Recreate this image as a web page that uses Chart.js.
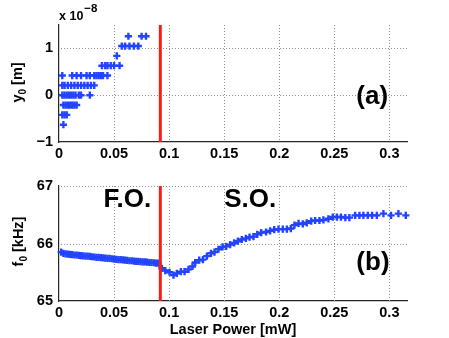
<!DOCTYPE html>
<html>
<head>
<meta charset="utf-8">
<script src="https://cdn.jsdelivr.net/npm/chart.js@4.4.0/dist/chart.umd.min.js"></script>
<style>
  html, body { margin: 0; padding: 0; background: #fff; }
  #wrap { width: 449px; height: 338px; }
  canvas { display: block; }
</style>
</head>
<body>
<div id="wrap">
  <canvas id="topChart" width="449" height="169"></canvas>
  <canvas id="botChart" width="449" height="169"></canvas>
</div>
<script>
// panel (a): y0 in units of 1e-8 m vs laser power [mW]
const y0Power = [
  0.004,
  0.003, 0.005, 0.007,
  0.004, 0.006, 0.008, 0.010, 0.012, 0.014, 0.016,
  0.003, 0.005, 0.007, 0.009, 0.011, 0.013, 0.015, 0.018, 0.020, 0.028,
  0.003, 0.005, 0.008, 0.011, 0.014, 0.017, 0.020, 0.023, 0.026, 0.029, 0.032,
  0.003, 0.012, 0.016, 0.020, 0.025, 0.028, 0.032, 0.034, 0.036, 0.038, 0.040, 0.044,
  0.039, 0.042, 0.044, 0.047, 0.050, 0.055,
  0.0525,
  0.057, 0.060, 0.064, 0.068, 0.072,
  0.063, 0.075, 0.079
];
const y0Values = [
  -0.63,
  -0.42, -0.42, -0.42,
  -0.21, -0.21, -0.21, -0.21, -0.21, -0.21, -0.21,
  0, 0, 0, 0, 0, 0, 0, 0, 0, 0,
  0.21, 0.21, 0.21, 0.21, 0.21, 0.21, 0.21, 0.21, 0.21, 0.21, 0.21,
  0.42, 0.42, 0.42, 0.42, 0.42, 0.42, 0.42, 0.42, 0.42, 0.42, 0.42, 0.42,
  0.63, 0.63, 0.63, 0.63, 0.63, 0.63,
  0.84,
  1.05, 1.05, 1.05, 1.05, 1.05,
  1.26, 1.26, 1.26
];

// panel (b): f0 [kHz], F.O. branch (dense) and S.O. branch
const foPower = [
  0.002, 0.004, 0.006, 0.008, 0.010, 0.012, 0.014, 0.016, 0.018, 0.020,
  0.022, 0.024, 0.026, 0.028, 0.030, 0.032, 0.034, 0.036, 0.038, 0.040,
  0.042, 0.044, 0.046, 0.048, 0.050, 0.052, 0.054, 0.056, 0.058, 0.060,
  0.062, 0.064, 0.066, 0.068, 0.070, 0.072, 0.074, 0.076, 0.078, 0.080,
  0.082, 0.084, 0.086, 0.088, 0.090
];
const foFreq = [
  65.85, 65.83, 65.82, 65.815, 65.81, 65.805, 65.80, 65.80, 65.795, 65.79,
  65.785, 65.78, 65.78, 65.775, 65.77, 65.765, 65.76, 65.76, 65.755, 65.75,
  65.745, 65.74, 65.74, 65.735, 65.73, 65.725, 65.72, 65.72, 65.715, 65.71,
  65.705, 65.70, 65.70, 65.695, 65.69, 65.69, 65.685, 65.68, 65.68, 65.675,
  65.67, 65.67, 65.665, 65.66, 65.66
];
const soPower = [
  0.0934, 0.0965, 0.1004, 0.104, 0.107, 0.1107, 0.114, 0.1176, 0.1212, 0.1237,
  0.1273, 0.1307, 0.1343, 0.138, 0.1412, 0.1448, 0.1485, 0.1518, 0.1554, 0.159,
  0.1624, 0.166, 0.1697, 0.173, 0.1766, 0.180, 0.1836, 0.188, 0.1917, 0.1954,
  0.1993, 0.2032, 0.2069, 0.2105, 0.2138, 0.2175, 0.2214, 0.225, 0.229, 0.2326,
  0.2365, 0.2401, 0.2446, 0.2486, 0.2523, 0.256, 0.26, 0.2637, 0.2689, 0.2728,
  0.2764, 0.2804, 0.2843, 0.2886, 0.2946, 0.3015, 0.3082, 0.3149
];
const soFreq = [
  65.57, 65.53, 65.50, 65.45, 65.48, 65.51, 65.51, 65.55, 65.60, 65.67,
  65.71, 65.72, 65.78, 65.83, 65.85, 65.90, 65.94, 65.95, 65.98, 66.01,
  66.04, 66.07, 66.09, 66.11, 66.12, 66.16, 66.19, 66.20, 66.22, 66.24,
  66.25, 66.25, 66.25, 66.26, 66.32, 66.35, 66.34, 66.36, 66.39, 66.40,
  66.40, 66.41, 66.43, 66.46, 66.46, 66.46, 66.45, 66.45, 66.49, 66.49,
  66.49, 66.49, 66.49, 66.49, 66.52, 66.49, 66.52, 66.49
];

const transitionPower = 0.092;

const xTicks = [0, 0.05, 0.1, 0.15, 0.2, 0.25, 0.3];
const xTickLabels = ['0', '0.05', '0.1', '0.15', '0.2', '0.25', '0.3'];
const topYTicks = [-1, 0, 1];
const topYTickLabels = ['\u22121', '0', '1'];
const botYTicks = [65, 66, 67];
const botYTickLabels = ['65', '66', '67'];

const FONT = '"Liberation Sans", Arial, Helvetica, sans-serif';
const BLUE = '#2244ff';
const RED = '#ff1a1a';

function pts(xs, ys) { return xs.map((x, i) => ({ x: x, y: ys[i] })); }

function markerSet(data) {
  return {
    data: data, order: 2, clip: 8,
    pointStyle: 'cross', pointRadius: 3.6, pointHoverRadius: 3.6,
    borderColor: BLUE, backgroundColor: BLUE, borderWidth: 2.4, showLine: false
  };
}
function redLine(yMin, yMax) {
  return {
    data: [{ x: transitionPower, y: yMin }, { x: transitionPower, y: yMax }],
    order: 0, clip: 0, showLine: true, borderColor: RED, borderWidth: 3, pointRadius: 0
  };
}

function scalesFor(yMin, yMax, yTicks, yLabels, xHeight) {
  return {
    x: {
      type: 'linear', min: 0, max: 0.316,
      afterBuildTicks: s => { s.ticks = xTicks.map(v => ({ value: v })); },
      afterFit: s => { s.height = xHeight; },
      ticks: {
        autoSkip: false, maxRotation: 0, padding: 3, color: '#000',
        font: { family: FONT, size: 14.5, weight: 'bold' },
        callback: (v, i) => xTickLabels[i]
      },
      grid: { color: 'rgba(0,0,0,0)', lineWidth: 1, drawTicks: false },
      border: { display: true, color: '#262626', width: 1.2 }
    },
    y: {
      type: 'linear', min: yMin, max: yMax,
      afterBuildTicks: s => { s.ticks = yTicks.map(v => ({ value: v })); },
      afterFit: s => { s.width = 59; },
      ticks: {
        autoSkip: false, padding: 6, color: '#000',
        font: { family: FONT, size: 14.5, weight: 'bold' },
        callback: (v, i) => yLabels[i]
      },
      grid: { color: 'rgba(0,0,0,0)', lineWidth: 1, drawTicks: false },
      border: { display: true, color: '#262626', width: 1.2 }
    }
  };
}

// dotted grid at the scales' tick positions, drawn as 1px dots behind the markers
const dotGrid = {
  id: 'dotGrid',
  beforeDatasetsDraw(chart) {
    const ctx = chart.ctx, a = chart.chartArea;
    const xs = chart.scales.x, ys = chart.scales.y;
    ctx.save();
    ctx.fillStyle = '#8f8f8f';
    xs.ticks.forEach(t => {
      const px = Math.round(xs.getPixelForValue(t.value));
      if (px <= a.left + 1) return;
      for (let y = Math.ceil(a.top); y < a.bottom; y += 3) ctx.fillRect(px, y, 1, 1);
    });
    ys.ticks.forEach(t => {
      const py = Math.round(ys.getPixelForValue(t.value));
      if (py >= a.bottom - 1) return;
      for (let x = Math.ceil(a.left) + 2; x < a.right; x += 3) ctx.fillRect(x, py, 1, 1);
    });
    ctx.restore();
  }
};

function subLabel(ctx, cx, cy, main, sub, rest) {
  const big = 'bold 14.5px ' + FONT, small = 'bold 10px ' + FONT;
  ctx.save();
  ctx.translate(cx, cy);
  ctx.rotate(-Math.PI / 2);
  ctx.fillStyle = '#000';
  ctx.textAlign = 'left';
  ctx.textBaseline = 'alphabetic';
  ctx.font = big;
  const w1 = ctx.measureText(main).width, w3 = ctx.measureText(rest).width;
  ctx.font = small;
  const w2 = ctx.measureText(sub).width;
  let x = -(w1 + w2 + w3) / 2;
  ctx.font = big; ctx.fillText(main, x, 0); x += w1;
  ctx.font = small; ctx.fillText(sub, x, 4); x += w2;
  ctx.font = big; ctx.fillText(rest, x, 0);
  ctx.restore();
}

function bigText(chart, txt, xv, yv) {
  const ctx = chart.ctx;
  ctx.save();
  ctx.fillStyle = '#000';
  ctx.font = 'bold 26px ' + FONT;
  ctx.textAlign = 'left';
  ctx.textBaseline = 'alphabetic';
  ctx.fillText(txt, chart.scales.x.getPixelForValue(xv), chart.scales.y.getPixelForValue(yv));
  ctx.restore();
}

new Chart(document.getElementById('topChart'), {
  type: 'scatter',
  data: { datasets: [redLine(-1, 1.5), markerSet(pts(y0Power, y0Values))] },
  options: {
    responsive: false, animation: false, devicePixelRatio: 1,
    layout: { padding: { left: 0, right: 42, top: 25, bottom: 0 } },
    plugins: { legend: { display: false }, tooltip: { enabled: false } },
    scales: scalesFor(-1, 1.5, topYTicks, topYTickLabels, 27)
  },
  plugins: [dotGrid, {
    id: 'topText',
    afterDraw(chart) {
      const ctx = chart.ctx, a = chart.chartArea;
      ctx.save();
      ctx.fillStyle = '#000';
      ctx.textAlign = 'left';
      ctx.textBaseline = 'alphabetic';
      ctx.font = 'bold 12.5px ' + FONT;
      ctx.fillText('x 10', a.left, 19.5);
      const w = ctx.measureText('x 10').width;
      ctx.font = 'bold 11.5px ' + FONT;
      ctx.fillText('\u22128', a.left + w + 1, 11.5);
      ctx.restore();
      subLabel(ctx, 22, (a.top + a.bottom) / 2 - 1, 'y', '0', ' [m]');
      bigText(chart, '(a)', 0.27, -0.18);
    }
  }]
});

new Chart(document.getElementById('botChart'), {
  type: 'scatter',
  data: {
    datasets: [
      redLine(65, 67),
      markerSet(pts(foPower, foFreq)),
      markerSet(pts(soPower, soFreq))
    ]
  },
  options: {
    responsive: false, animation: false, devicePixelRatio: 1,
    layout: { padding: { left: 0, right: 42, top: 17, bottom: 0 } },
    plugins: { legend: { display: false }, tooltip: { enabled: false } },
    scales: scalesFor(65, 67, botYTicks, botYTickLabels, 37)
  },
  plugins: [dotGrid, {
    id: 'botText',
    afterDraw(chart) {
      const ctx = chart.ctx, a = chart.chartArea;
      subLabel(ctx, 22.5, (a.top + a.bottom) / 2 - 2, 'f', '0', ' [kHz]');
      ctx.save();
      ctx.fillStyle = '#000';
      ctx.font = 'bold 14.5px ' + FONT;
      ctx.textAlign = 'center';
      ctx.textBaseline = 'alphabetic';
      ctx.fillText('Laser Power [mW]', (a.left + a.right) / 2, 165);
      ctx.restore();
      bigText(chart, 'F.O.', 0.0405, 66.636);
      bigText(chart, 'S.O.', 0.150, 66.636);
      bigText(chart, '(b)', 0.27, 65.54);
    }
  }]
});
</script>
</body>
</html>
